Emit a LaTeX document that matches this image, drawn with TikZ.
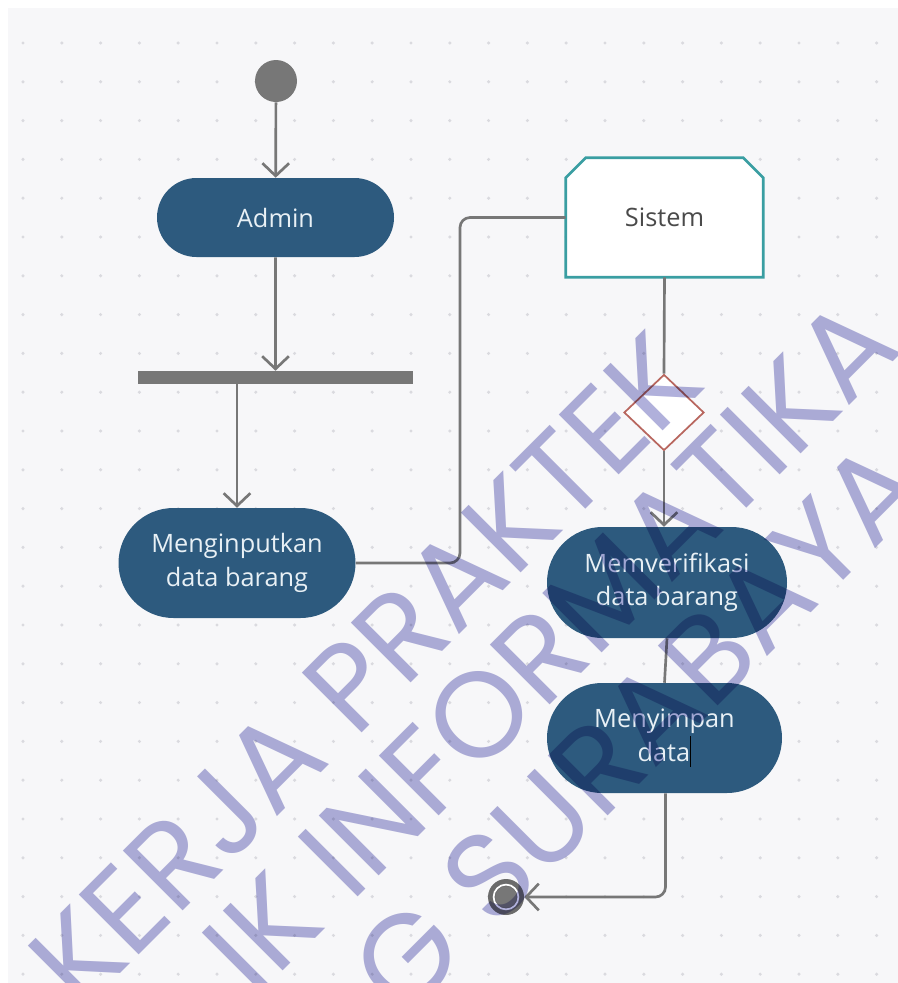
\documentclass[tikz,border=0pt]{standalone}
\usepackage{fontspec}
\setmainfont{Open Sans}
\newfontfamily\wmfont{Poppins}
\usetikzlibrary{shapes.geometric,shapes.misc,arrows.meta,calc}
\definecolor{bgc}{HTML}{F7F7F9}
\definecolor{dotc}{HTML}{DADADF}
\definecolor{actc}{HTML}{2D5A7E}
\definecolor{linec}{HTML}{777777}
\definecolor{tealc}{HTML}{3A9EA2}
\definecolor{diac}{HTML}{B8665E}
\definecolor{wmc}{HTML}{B0B0DB}
\definecolor{acttext}{HTML}{E8F0F5}
\definecolor{systext}{HTML}{4A4A4A}
\begin{document}
\begin{tikzpicture}[x=0.75pt,y=-0.75pt,
  act/.style={rounded rectangle, fill=actc, draw=none, text=acttext, align=center,
    inner sep=0pt, font=\fontsize{19}{25}\selectfont},
  conn/.style={draw=linec, line width=2pt},
  arr/.style={conn, -{Straight Barb[length=9.5pt,width=20pt,line width=2pt]}},
  wm/.style={text=wmc, rotate=45, inner sep=0pt, font=\wmfont\fontsize{91}{100}\selectfont}]
\useasboundingbox (0,0) rectangle (898,983);
\fill[white] (0,0) rectangle (898,983);
\fill[bgc] (8,8) rectangle (898,983);
\foreach \i in {0,...,22}{
  \foreach \j in {0,...,24}{
    \fill[dotc] ({23+38.8*\i},{43+38.8*\j}) circle (1.3pt);
  }
}
% nodes
\node[circle, fill=linec, minimum size=31.5pt, inner sep=0pt] (start) at (276,81) {};
\node[act, minimum width=177.75pt, minimum height=59.25pt] (admin) at (275.5,217.5) {Admin};
\node[rectangle, fill=linec, minimum width=206.25pt, minimum height=9.75pt, inner sep=0pt] (bar) at (275.5,377.5) {};
\node[act, minimum width=177.75pt, minimum height=82.5pt] (minp) at (237,563) {Menginputkan\\data barang};
\node[rectangle, minimum width=147.75pt, minimum height=89.25pt, inner sep=0pt, text=systext,
  font=\fontsize{19}{25}\selectfont] (sis) at (664.5,217.5) {Sistem};
\fill[white, draw=tealc, line width=2pt]
  (sis.south west) -- ([yshift=-15pt]sis.north west) -- ([xshift=15pt]sis.north west)
  -- ([xshift=-15pt]sis.north east) -- ([yshift=-15pt]sis.north east) -- (sis.south east) -- cycle;
\node[text=systext, font=\fontsize{19}{25}\selectfont] at (sis.center) {Sistem};
\node[diamond, draw=diac, fill=white, line width=1.3pt, minimum width=60pt, minimum height=57pt,
  inner sep=0pt] (dec) at (664,412.5) {};
\node[act, minimum width=180pt, minimum height=83.25pt] (verif) at (667,582.5) {Memverifikasi\\data barang};
\node[act, minimum width=176.25pt, minimum height=82.5pt] (simpan) at (664.5,738)
  {Menyimpan\\data\textcolor{black}{\rule[-0.22em]{0.9pt}{1.2em}}};
\node[circle, fill=linec!90!black, minimum size=27pt, inner sep=0pt] (end) at (506,897) {};
\draw[white, line width=1.3pt] (end.center) circle (9.3pt);
\fill[linec] (end.center) circle (8pt);
% connectors
\draw[arr] (start) -- (admin);
\draw[arr] (admin) -- (bar);
\draw[arr] (bar.south -| minp.north) -- (minp.north);
\coordinate (k1) at (460,217.5);
\draw[conn, rounded corners=7.5pt] (minp.east) -| (k1) -- (sis.west);
\draw[conn] (sis.south) -- (dec.north);
\draw[arr] (dec.south) -- (dec.south |- verif.north);
\draw[conn] (verif.south) -- (simpan.north);
\draw[arr, rounded corners=7.5pt] ([xshift=0.75pt]simpan.south) |- (end.east);
% watermark
\begin{scope}[blend mode=multiply]
\clip (0,0) rectangle (898,983);
\node[wm] at (365,670) {KERJA PRAKTEK};
\node[wm] at (550,645) {IK INFORMATIKA};
\node[wm] at (637,727) {G SURABAYA};
\end{scope}
\end{tikzpicture}
\end{document}
